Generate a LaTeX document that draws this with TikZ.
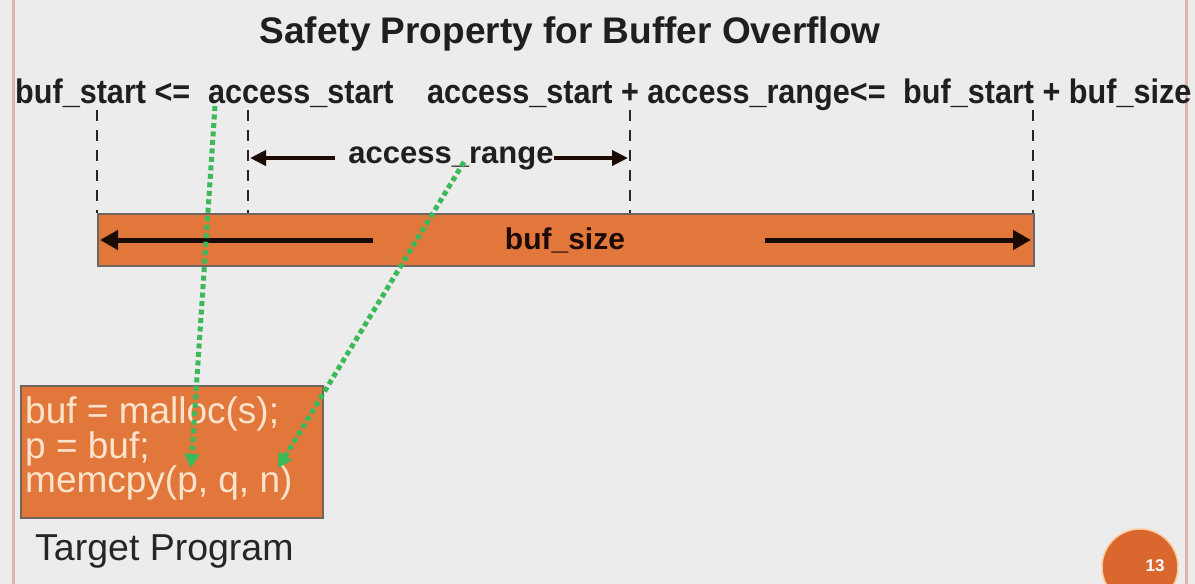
\documentclass[tikz,border=0pt]{standalone}
\usepackage{fontspec}
\setmainfont{Liberation Sans}
\usetikzlibrary{arrows.meta}
\definecolor{slidebg}{HTML}{ECECEC}
\definecolor{edgepink}{HTML}{DDB6AE}
\definecolor{bufcolor}{HTML}{E2773B}
\definecolor{boxedge}{HTML}{6E6660}
\definecolor{darkink}{HTML}{1C0A04}
\definecolor{codetext}{HTML}{FCE3CC}
\definecolor{flowgreen}{HTML}{3CBA5A}
\definecolor{badge}{HTML}{D9672E}
\newcommand{\narrow}[1]{\scalebox{0.9}[1]{#1}}
\tikzset{
  lbl/.style={inner sep=0pt, anchor=base west, font=\fontsize{34}{40}\selectfont\bfseries, text=black!88},
  marker/.style={draw=black!85, line width=2.5pt, dash pattern=on 11pt off 9pt},
  rangearrow/.style={draw=darkink, line width=4pt, -{Triangle[length=16pt,width=15pt]}},
  sizearrow/.style={draw=darkink, line width=5pt, -{Triangle[length=18pt,width=19pt]}},
  orangebox/.style={fill=bufcolor, draw=boxedge, line width=2pt, inner sep=0pt, anchor=north west},
  codeline/.style={inner sep=0pt, anchor=base west, font=\fontsize{37}{40}\selectfont, text=codetext},
  dataflow/.style={draw=flowgreen, line width=5pt, dash pattern=on 5pt off 3.5pt, -{Triangle[length=14pt,width=15pt]}}
}
\begin{document}
\begin{tikzpicture}[x=1pt,y=-1pt]
\fill[slidebg] (0,0) rectangle (1195,584);
\useasboundingbox (0,0) rectangle (1195,584);
\draw[edgepink, line width=3pt] (13,0) -- (13,584);
\draw[edgepink, line width=3pt] (1186,0) -- (1186,584);

% title
\node[inner sep=0pt, anchor=base, font=\fontsize{37}{44}\selectfont\bfseries, text=black!88] (title) at (570,43) {Safety Property for Buffer Overflow};

% the inequality
\node[lbl] (bufstart) at (15,103) {\narrow{buf\_start <=}};
\node[lbl] (accstart) at (208,103) {\narrow{access\_start}};
\node[lbl] (accend) at (427,103) {\narrow{access\_start + access\_range<=}};
\node[lbl] (bufend) at (903,103) {\narrow{buf\_start + buf\_size}};

% buffer bar
\node[orangebox, minimum width=936pt, minimum height=52pt] (bar) at (97,213) {};
\node[inner sep=0pt, font=\fontsize{30}{36}\selectfont\bfseries, text=darkink] (bufsize) at (565,240) {buf\_size};
\coordinate (barL) at (100,240);
\coordinate (barR) at (1031,240);
\coordinate (barLs) at (373,240);
\coordinate (barRs) at (765,240);
\draw[sizearrow] (barLs) -- (barL);
\draw[sizearrow] (barRs) -- (barR);

% dashed markers
\coordinate (m1t) at (97,110);   \coordinate (m1b) at (97,213);
\coordinate (m2t) at (248,110);  \coordinate (m2b) at (248,213);
\coordinate (m3t) at (630,110);  \coordinate (m3b) at (630,213);
\coordinate (m4t) at (1033,110); \coordinate (m4b) at (1033,213);
\draw[marker] (m1t) -- (m1b);
\draw[marker] (m2t) -- (m2b);
\draw[marker] (m3t) -- (m3b);
\draw[marker] (m4t) -- (m4b);

% access range
\node[inner sep=0pt, font=\fontsize{31}{36}\selectfont\bfseries, text=black!88] (accrange) at (451,158) {access\_range};
\coordinate (rL) at (250,158);
\coordinate (rR) at (628,158);
\draw[rangearrow] (335,158) -- (rL);
\draw[rangearrow] (accrange.east) -- (rR);

% target program
\node[orangebox, minimum width=302pt, minimum height=132pt] (code) at (20,385) {};
\node[codeline] (l1) at (25,423) {buf = malloc(s);};
\node[codeline] (l2) at (25,458) {p = buf;};
\node[codeline] (l3) at (25,492) {memcpy(p, q, n)};
\node[inner sep=0pt, anchor=base west, font=\fontsize{37.5}{42}\selectfont, text=black!85] (target) at (35,560) {Target Program};

% data flow into the memcpy arguments
\coordinate (pArg) at (191,468);
\coordinate (nArg) at (278,468);
\draw[dataflow] (215,106) -- (pArg);
\draw[dataflow] (464,162) -- (nArg);

% slide number
\node[circle, fill=badge, draw=orange!40, line width=1.5pt, minimum size=76pt, inner sep=0pt] (badgec) at (1140,567) {};
\node[inner sep=0pt, font=\fontsize{17}{19}\selectfont\bfseries, text=white] (num) at (1155,566) {13};
\end{tikzpicture}
\end{document}
